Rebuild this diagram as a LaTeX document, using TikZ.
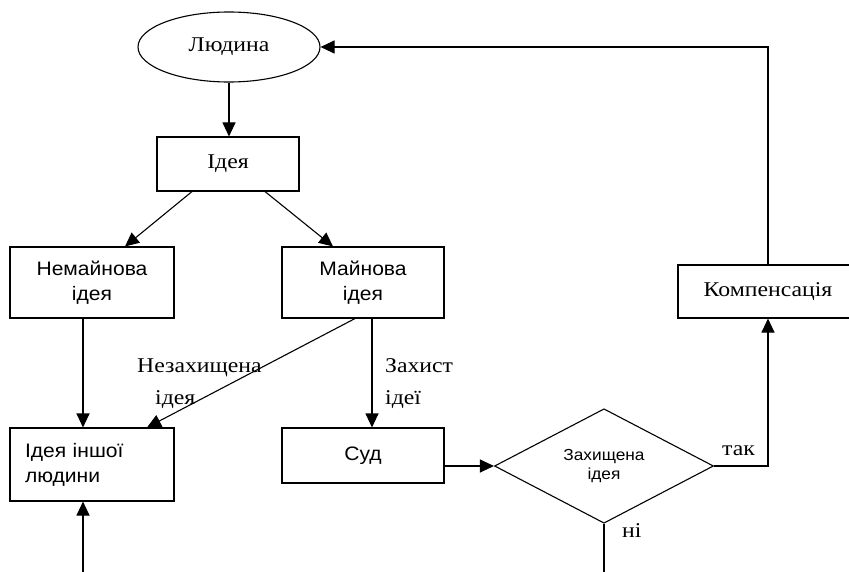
\documentclass[tikz,border=0pt]{standalone}
\usepackage{fontspec}
\setmainfont[FakeStretch=1.13]{Liberation Serif}
\newfontfamily\sansf[FakeStretch=1.08]{Liberation Sans}
\usetikzlibrary{shapes.geometric,arrows.meta,calc}
\begin{document}
\begin{tikzpicture}[x=1pt,y=-1pt,
  box/.style={draw,line width=1.1pt,inner sep=0pt},
  arr/.style={-{Triangle[length=14pt,width=13pt]},line width=1.1pt},
  ln/.style={line width=1.1pt},
  ser/.style={font=\fontsize{21}{25}\selectfont},
  sans/.style={font=\sansf\fontsize{19.5}{25}\selectfont},
  lbl/.style={font=\fontsize{21}{25}\selectfont,inner sep=0pt}]
\useasboundingbox (0,0) rectangle (849,572);
\clip (0,0) rectangle (849,572);
% nodes
\node[box,ellipse,ser,minimum width=182pt,minimum height=70pt] (lyud) at (229,47) {Людина};
\node[box,ser,minimum width=142pt,minimum height=54pt] (ideya) at (228,164) {Ідея};
\node[box,sans,minimum width=164pt,minimum height=71pt,align=center] (nem) at (92,282.5) {Немайнова\\ідея};
\node[box,sans,minimum width=162pt,minimum height=71pt,align=center] (mai) at (363,282.5) {Майнова\\ідея};
\node[box,sans,minimum width=164pt,minimum height=73pt,text width=134pt,align=left,inner xsep=15pt] (insh) at (92,464.5) {Ідея іншої\\людини};
\node[box,sans,minimum width=162pt,minimum height=55pt] (sud) at (363,455.5) {Суд};
\node[box,diamond,minimum width=219pt,minimum height=108pt,align=center,font=\sansf\fontsize{16}{19}\selectfont] (zah) at (604,466) {Захищена\\ідея};
\node[box,ser,minimum width=180pt,minimum height=53pt] (komp) at (768,291.5) {Компенсація};
% labels
\node[lbl,anchor=base west] (l1) at (137,372) {Незахищена};
\node[lbl,anchor=base west] (l2) at (155,404) {ідея};
\node[lbl,anchor=base west] (l3) at (385,372) {Захист};
\node[lbl,anchor=base west] (l4) at (385,404) {ідеї};
\node[lbl,anchor=base west] (l5) at (722,455) {так};
\node[lbl,anchor=base west] (l6) at (622,537) {ні};
% free ends
\coordinate (bot1) at (83,590);
\coordinate (bot2) at (605,590);
% connectors
\draw[arr] (lyud.south) -- (lyud.south |- ideya.north);
\draw[arr] ($(ideya.south)+(-36,0)$) -- ($(nem.north)+(33,0)$);
\draw[arr] ($(ideya.south)+(37,0)$) -- ($(mai.north)+(-30,0)$);
\draw[arr] ($(nem.south)+(-9,0)$) -- ($(insh.north)+(-9,0)$);
\draw[arr] ($(mai.south)+(-8,0)$) -- ($(insh.north)+(55,0)$);
\draw[arr] ($(mai.south)+(9,0)$) -- ($(sud.north)+(9,0)$);
\draw[arr] (bot1) -- (bot1 |- insh.south);
\draw[arr] (sud.east |- zah.west) -- (zah.west);
\draw[arr] (zah.east) -| (komp.south);
\draw[arr] (komp.north) |- (lyud.east);
\draw[ln] (zah.south) -- (zah.south |- bot2);
\end{tikzpicture}
\end{document}
